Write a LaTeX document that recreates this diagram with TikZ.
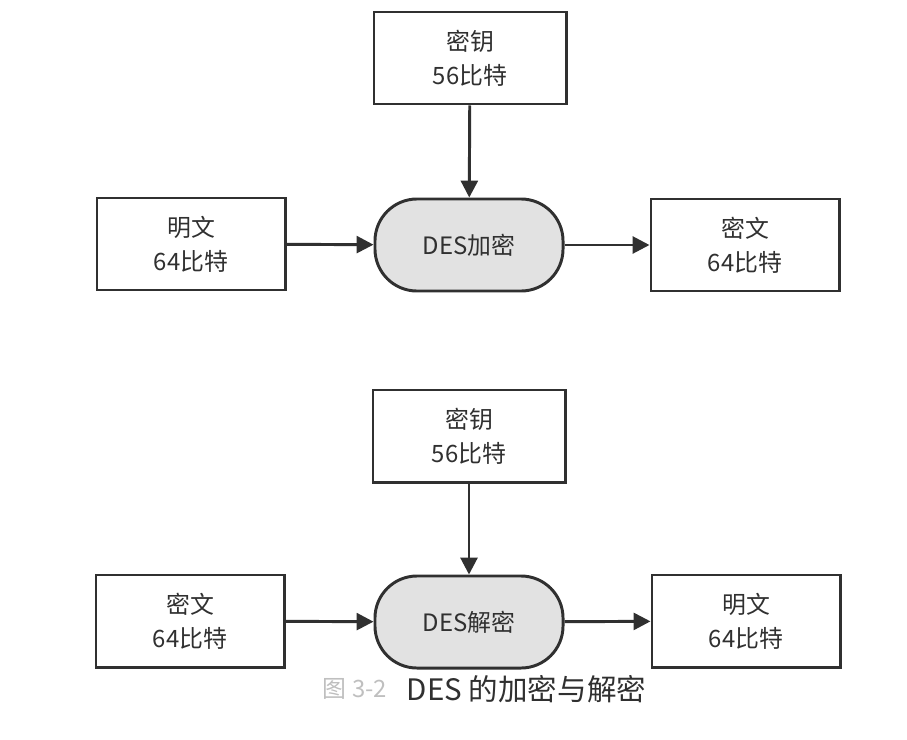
\documentclass[tikz,border=0pt]{standalone}
\usepackage{fontspec}
\setmainfont{Noto Sans CJK SC}
\usetikzlibrary{arrows.meta}
\definecolor{ink}{HTML}{303030}
\definecolor{boxgray}{HTML}{E2E2E2}
\tikzset{
  databox/.style={draw=ink, line width=2.1pt, fill=white, minimum width=4.7cm,
    minimum height=2.3cm, align=center, text=ink, font=\fontsize{17}{24}\selectfont},
  desbox/.style={databox, fill=boxgray, rounded corners=1.05cm},
  flow/.style={draw=ink, line width=2.1pt, -{Triangle[length=12pt,width=12pt]}}
}
\begin{document}
\begin{tikzpicture}[x=0.025cm,y=-0.025cm]
    \useasboundingbox (0,0) rectangle (907,739);
    % encryption
    \node [databox, minimum width=4.8cm] (key1) at (470,58) {密钥\\56比特};
    \node [desbox] (enc) at (469,245) {DES加密};
    \node [databox] (plain1) at (191,244) {明文\\64比特};
    \node [databox] (cipher1) at (745,245) {密文\\64比特};
    \draw [flow] (key1) -- (enc);
    \draw [flow] (plain1) -- (enc);
    \draw [flow] (enc) -- (cipher1);
    % decryption
    \node [databox, minimum width=4.8cm] (key2) at (469,436) {密钥\\56比特};
    \node [desbox] (dec) at (469,622) {DES解密};
    \node [databox] (cipher2) at (190,621) {密文\\64比特};
    \node [databox] (plain2) at (746,621) {明文\\64比特};
    \draw [flow] (key2) -- (dec);
    \draw [flow] (cipher2) -- (dec);
    \draw [flow] (dec) -- (plain2);
    % caption
    \node [text=black!25, font=\fontsize{17}{20}\selectfont] (fignum) at (355,689) {图 3-2};
    \node [anchor=west, text=ink, font=\fontsize{21}{24}\selectfont] (caption) at (402,689) {DES 的加密与解密};
\end{tikzpicture}
\end{document}
